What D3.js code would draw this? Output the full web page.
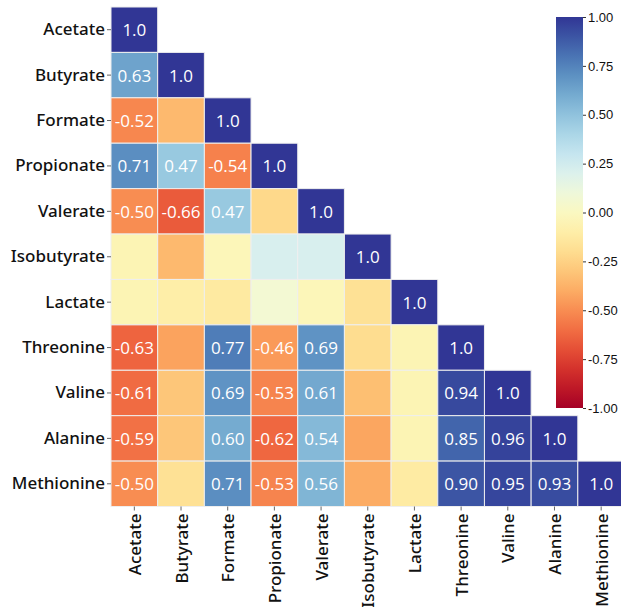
<!DOCTYPE html>
<html>
<head>
<meta charset="utf-8">
<script src="https://cdn.jsdelivr.net/npm/d3@7"></script>
<style>
  html, body { margin: 0; padding: 0; background: #fff; }
  svg { display: block; }
</style>
</head>
<body>
<svg id="chart" width="621" height="611"></svg>
<script>
// Variable names (rows top-to-bottom, columns left-to-right)
const variables = ['Acetate', 'Butyrate', 'Formate', 'Propionate', 'Valerate', 'Isobutyrate',
    'Lactate', 'Threonine', 'Valine', 'Alanine', 'Methionine'];

// Lower triangle of the correlation matrix, one array per row
const rowAcetate     = [1.0];
const rowButyrate    = [0.63, 1.0];
const rowFormate     = [-0.52, -0.35, 1.0];
const rowPropionate  = [0.71, 0.47, -0.54, 1.0];
const rowValerate    = [-0.50, -0.66, 0.47, -0.22, 1.0];
const rowIsobutyrate = [-0.05, -0.35, -0.03, 0.22, 0.22, 1.0];
const rowLactate     = [-0.05, -0.10, -0.13, 0.07, -0.03, -0.18, 1.0];
const rowThreonine   = [-0.63, -0.43, 0.77, -0.46, 0.69, -0.20, -0.05, 1.0];
const rowValine      = [-0.61, -0.30, 0.69, -0.53, 0.61, -0.33, -0.05, 0.94, 1.0];
const rowAlanine     = [-0.59, -0.30, 0.60, -0.62, 0.54, -0.42, -0.05, 0.85, 0.96, 1.0];
const rowMethionine  = [-0.50, -0.18, 0.71, -0.53, 0.56, -0.40, -0.12, 0.90, 0.95, 0.93, 1.0];

const matrixRows = [rowAcetate, rowButyrate, rowFormate, rowPropionate, rowValerate, rowIsobutyrate,
    rowLactate, rowThreonine, rowValine, rowAlanine, rowMethionine];

// Colorbar ticks
const colorbarTicks = [1.0, 0.75, 0.5, 0.25, 0.0, -0.25, -0.5, -0.75, -1.0];

// Only values with |r| at or above this are printed in the cell
const labelThreshold = 0.45;

const svg = d3.select('#chart');
const margin = { top: 7, left: 111 };
const gridW = 513.5;
const gridH = 499.5;

// Flatten the triangle into cells
const cells = [];
matrixRows.forEach((row, i) => {
    row.forEach((v, j) => {
        cells.push({ row: variables[i], col: variables[j], value: v, diag: i === j });
    });
});

const xScale = d3.scaleBand().domain(variables).range([margin.left, margin.left + gridW]);
const yScale = d3.scaleBand().domain(variables).range([margin.top, margin.top + gridH]);
const color = d3.scaleSequential(d3.interpolateRdYlBu).domain([-1, 1]);

const g = svg.append('g');

// Cells
g.selectAll('.cell')
    .data(cells)
    .enter().append('rect')
    .attr('class', 'cell')
    .attr('x', d => xScale(d.col))
    .attr('y', d => yScale(d.row))
    .attr('width', xScale.bandwidth())
    .attr('height', yScale.bandwidth())
    .attr('fill', d => color(d.value))
    .attr('stroke', '#eeeeee')
    .attr('stroke-width', 1);

// Cell labels
g.selectAll('.cell-label')
    .data(cells.filter(d => d.diag || Math.abs(d.value) >= labelThreshold))
    .enter().append('text')
    .attr('class', 'cell-label')
    .attr('x', d => xScale(d.col) + xScale.bandwidth() / 2)
    .attr('y', d => yScale(d.row) + yScale.bandwidth() / 2)
    .attr('text-anchor', 'middle')
    .attr('dominant-baseline', 'central')
    .style('font-family', '"Open Sans", "Noto Sans", sans-serif')
    .style('font-size', '17px')
    .style('fill', '#fff')
    .text(d => d.diag ? d.value.toFixed(1) : d.value.toFixed(2));

// Y axis (row labels)
const yAxis = d3.axisLeft(yScale).tickSize(4).tickPadding(2);
const yG = svg.append('g')
    .attr('transform', `translate(${margin.left}, 0)`)
    .call(yAxis);
yG.select('.domain').remove();
yG.selectAll('.tick line').attr('stroke', '#666');
yG.selectAll('.tick text')
    .style('font-family', '"Noto Sans", "Open Sans", sans-serif')
    .style('font-size', '17px')
    .style('font-weight', '500')
    .style('fill', '#111');

// X axis (column labels, rotated)
const xAxis = d3.axisBottom(xScale).tickSize(4).tickPadding(2);
const xG = svg.append('g')
    .attr('transform', `translate(0, ${margin.top + gridH})`)
    .call(xAxis);
xG.select('.domain').remove();
xG.selectAll('.tick line').attr('stroke', '#666');
xG.selectAll('.tick text')
    .style('font-family', '"Noto Sans", "Open Sans", sans-serif')
    .style('font-size', '17px')
    .style('font-weight', '500')
    .style('fill', '#111')
    .attr('text-anchor', 'end')
    .attr('dominant-baseline', 'central')
    .attr('dy', null)
    .attr('transform', 'translate(0, 7) rotate(-90)')
    .attr('x', 0)
    .attr('y', 0);

// Colorbar
const cb = { x: 556, y: 17, w: 27, h: 391 };
const defs = svg.append('defs');
const grad = defs.append('linearGradient')
    .attr('id', 'cbGrad')
    .attr('x1', 0).attr('y1', 1).attr('x2', 0).attr('y2', 0);
d3.range(0, 1.0001, 0.05).forEach(t => {
    grad.append('stop')
        .attr('offset', t)
        .attr('stop-color', color(-1 + 2 * t));
});
svg.append('rect')
    .attr('x', cb.x)
    .attr('y', cb.y)
    .attr('width', cb.w)
    .attr('height', cb.h)
    .attr('fill', 'url(#cbGrad)');

const cbScale = d3.scaleLinear().domain([-1, 1]).range([cb.y + cb.h, cb.y]);
const cbAxis = d3.axisRight(cbScale)
    .tickValues(colorbarTicks)
    .tickFormat(d3.format('.2f'))
    .tickSize(3)
    .tickPadding(2);
const cbG = svg.append('g')
    .attr('transform', `translate(${cb.x + cb.w}, 0)`)
    .call(cbAxis);
cbG.select('.domain').remove();
cbG.selectAll('.tick line').attr('stroke', '#333');
cbG.selectAll('.tick text')
    .style('font-family', '"Liberation Sans", Arial, sans-serif')
    .style('font-size', '13px')
    .style('fill', '#111')
    .text(d => d3.format('.2f')(d).replace('−', '-'));
</script>
</body>
</html>
